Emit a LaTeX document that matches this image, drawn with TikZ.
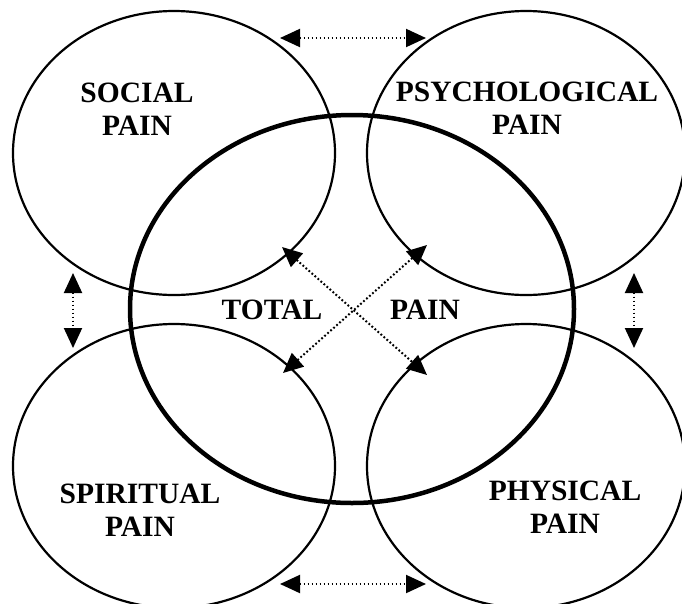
\documentclass[tikz,border=0pt]{standalone}
\usepackage{fontspec}
\setmainfont{Liberation Serif}
\usetikzlibrary{shapes.geometric,arrows.meta}
\begin{document}
\begin{tikzpicture}[x=1pt,y=-1pt,
  painellipse/.style={draw, ellipse, line width=2.2pt, inner sep=0pt, minimum width=322pt, minimum height=284pt},
  totalellipse/.style={draw, ellipse, line width=4.5pt, inner sep=0pt, minimum width=444pt, minimum height=388pt},
  lbl/.style={font=\bfseries\fontsize{29.5}{33}\selectfont, align=center, inner sep=0pt, anchor=base},
  link/.style={line width=2pt, dash pattern=on 1.8pt off 2.2pt, {Triangle[length=20pt,width=18pt]}-{Triangle[length=20pt,width=18pt]}}
]
\useasboundingbox (0,0) rectangle (682,603);
\node[painellipse] (soc) at (174,153) {};
\node[painellipse, minimum width=318pt] (psy) at (526,153) {};
\node[painellipse] (spi) at (174,466) {};
\node[painellipse, minimum width=318pt] (phy) at (526,466) {};
\node[totalellipse] (tot) at (352,309) {};

\node[lbl] (tsoc) at (137,135) {SOCIAL\\PAIN};
\node[lbl] (tpsy) at (527,134) {PSYCHOLOGICAL\\PAIN};
\node[lbl] (tspi) at (140,536) {SPIRITUAL\\PAIN};
\node[lbl] (tphy) at (565,533) {PHYSICAL\\PAIN};
\node[lbl] (ttot) at (272,319) {TOTAL};
\node[lbl] (tpain) at (425,319) {PAIN};

\coordinate (a1) at (280,38);  \coordinate (a2) at (426,38);
\coordinate (b1) at (280,584); \coordinate (b2) at (426,584);
\coordinate (c1) at (73,273);  \coordinate (c2) at (73,348);
\coordinate (d1) at (634,273); \coordinate (d2) at (634,348);
\coordinate (e1) at (282,247); \coordinate (e2) at (427,375);
\coordinate (f1) at (427,245); \coordinate (f2) at (283,373);

\draw[link] (a1) -- (a2);
\draw[link] (b1) -- (b2);
\draw[link] (c1) -- (c2);
\draw[link] (d1) -- (d2);
\draw[link] (e1) -- (e2);
\draw[link] (f1) -- (f2);
\end{tikzpicture}
\end{document}
